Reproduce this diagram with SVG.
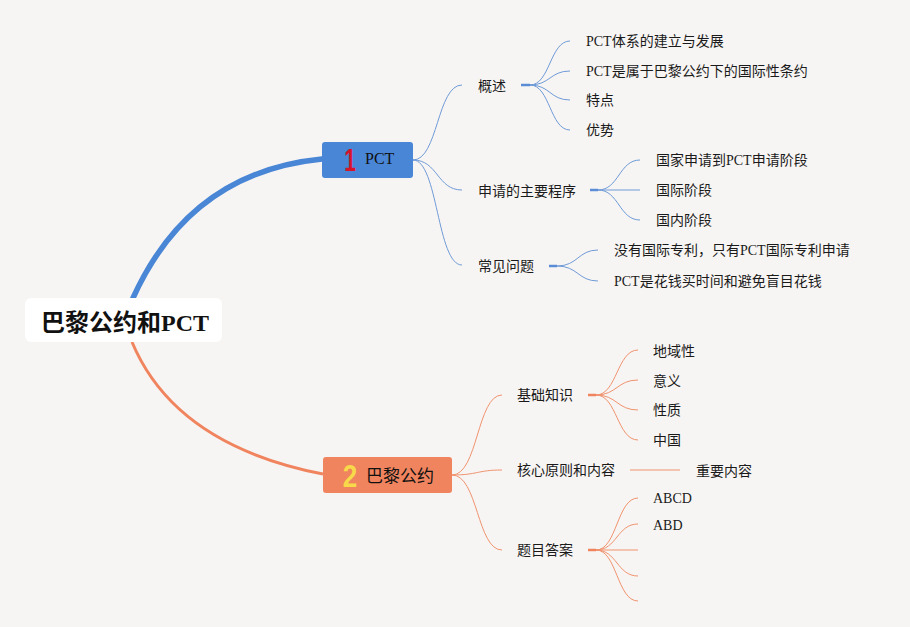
<svg xmlns="http://www.w3.org/2000/svg" width="910" height="627" viewBox="0 0 910 627">
<style>
.t{font-family:"Liberation Serif","Noto Sans CJK SC",serif;font-size:14px;fill:#1a1a1a}
.b{fill:none;stroke:#6f9bd8;stroke-width:1}
.o{fill:none;stroke:#f0936f;stroke-width:1}
</style>
<rect width="910" height="627" fill="#f7f5f3"/>
<g id="connectors">
<path d="M133,298 Q190,172 322,159" fill="none" stroke="#4a86d6" stroke-width="5.5" stroke-linecap="round"/>
<path d="M132,342 Q175,445 323,474" fill="none" stroke="#f0845e" stroke-width="3"/>
<path class="b" d="M413,160 C438,160 437,85 462,85"/>
<path class="b" d="M413,160 C438,160 437,190 462,190"/>
<path class="b" d="M413,160 C438,160 437,265 462,265"/>
<path d="M521,85 H530" stroke="#5a8dd6" stroke-width="2.5"/>
<path class="b" d="M530,85 C550,85 550,41 570,41"/>
<path class="b" d="M530,85 C550,85 550,71 570,71"/>
<path class="b" d="M530,85 C550,85 550,100 570,100"/>
<path class="b" d="M530,85 C550,85 550,130 570,130"/>
<path d="M590,190 H598" stroke="#5a8dd6" stroke-width="2.5"/>
<path class="b" d="M598,190 C619,190 619,160 640,160"/>
<path class="b" d="M598,190 H640"/>
<path class="b" d="M598,190 C619,190 619,220 640,220"/>
<path d="M549,266 H557" stroke="#5a8dd6" stroke-width="2.5"/>
<path class="b" d="M557,266 C578,266 578,250 598,250"/>
<path class="b" d="M557,266 C578,266 578,281 598,281"/>
<path class="o" d="M452,475 C478,475 477,395 502,395"/>
<path class="o" d="M452,475 C478,475 477,470 502,470"/>
<path class="o" d="M452,475 C478,475 477,550 502,550"/>
<path d="M588,395 H596" stroke="#f0845e" stroke-width="2.5"/>
<path class="o" d="M596,395 C617,395 617,350 638,350"/>
<path class="o" d="M596,395 C617,395 617,380 638,380"/>
<path class="o" d="M596,395 C617,395 617,410 638,410"/>
<path class="o" d="M596,395 C617,395 617,440 638,440"/>
<path class="o" d="M630,470 H680"/>
<path d="M588,550 H596" stroke="#f0845e" stroke-width="2.5"/>
<path class="o" d="M596,550 C617,550 617,498 638,498"/>
<path class="o" d="M596,550 C617,550 617,524 638,524"/>
<path class="o" d="M596,550 H638"/>
<path class="o" d="M596,550 C617,550 617,576 638,576"/>
<path class="o" d="M596,550 C617,550 617,601 638,601"/>
</g>
<g id="root">
<rect x="25" y="298" width="197" height="44" rx="6" fill="#ffffff"/>
<text x="125" y="331" text-anchor="middle" style="font-family:'Liberation Serif','Noto Sans CJK SC',serif;font-size:24px;font-weight:bold;fill:#111">巴黎公约和PCT</text>
</g>
<g id="pct">
<rect x="322" y="142" width="91" height="36" rx="3" fill="#4a86d6"/>
<text transform="translate(350,171) scale(0.72,1.08)" text-anchor="middle" style="font-family:'Liberation Sans',sans-serif;font-size:29px;font-weight:bold;fill:#d4142a">1</text>
<text x="365" y="164" style="font-family:'Liberation Serif',serif;font-size:16px;fill:#111">PCT</text>
</g>
<g id="paris">
<rect x="323" y="457" width="129" height="36" rx="3" fill="#f0845e"/>
<text transform="translate(350,487) scale(0.9,1.05)" text-anchor="middle" style="font-family:'Liberation Sans',sans-serif;font-size:29px;font-weight:bold;fill:#f7d94a">2</text>
<text x="366" y="482" style="font-family:'Noto Sans CJK SC',sans-serif;font-size:17px;fill:#111">巴黎公约</text>
</g>
<g id="gaishu"><text class="t" x="478" y="91">概述</text></g>
<g id="n1a"><text class="t" x="586" y="46">PCT体系的建立与发展</text></g>
<g id="n1b"><text class="t" x="586" y="76">PCT是属于巴黎公约下的国际性条约</text></g>
<g id="n1c"><text class="t" x="586" y="105">特点</text></g>
<g id="n1d"><text class="t" x="586" y="135">优势</text></g>
<g id="chengxu"><text class="t" x="478" y="196">申请的主要程序</text></g>
<g id="n2a"><text class="t" x="656" y="165">国家申请到PCT申请阶段</text></g>
<g id="n2b"><text class="t" x="656" y="195">国际阶段</text></g>
<g id="n2c"><text class="t" x="656" y="225">国内阶段</text></g>
<g id="wenti"><text class="t" x="478" y="271">常见问题</text></g>
<g id="n3a"><text class="t" x="614" y="255">没有国际专利，只有PCT国际专利申请</text></g>
<g id="n3b"><text class="t" x="614" y="286">PCT是花钱买时间和避免盲目花钱</text></g>
<g id="jichu"><text class="t" x="517" y="400">基础知识</text></g>
<g id="n4a"><text class="t" x="653" y="356">地域性</text></g>
<g id="n4b"><text class="t" x="653" y="386">意义</text></g>
<g id="n4c"><text class="t" x="653" y="415">性质</text></g>
<g id="n4d"><text class="t" x="653" y="445">中国</text></g>
<g id="hexin"><text class="t" x="517" y="475">核心原则和内容</text></g>
<g id="n5a"><text class="t" x="696" y="476">重要内容</text></g>
<g id="timu"><text class="t" x="517" y="555">题目答案</text></g>
<g id="n6a"><text class="t" x="653" y="503">ABCD</text></g>
<g id="n6b"><text class="t" x="653" y="530">ABD</text></g>
</svg>
